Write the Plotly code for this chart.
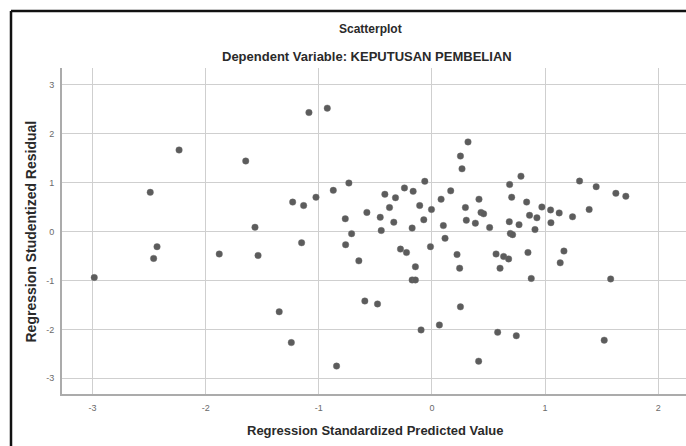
import plotly.graph_objects as go

# Regression Standardized Predicted Value (x) and Regression Studentized Residual (y)
predicted = [
    -2.985, -2.49, -2.43, -2.46, -2.235, -1.88, -1.646, -1.564, -1.537, -1.35,
    -1.243, -1.231, -1.152, -1.134, -1.087, -1.025, -0.925, -0.872, -0.843, -0.766,
    -0.763, -0.734, -0.71, -0.646, -0.593, -0.575, -0.481, -0.457, -0.448, -0.416,
    -0.375, -0.337, -0.322, -0.278, -0.243, -0.225, -0.175, -0.175, -0.146, -0.166,
    -0.146, -0.108, -0.096, -0.072, -0.063, -0.013, -0.004, 0.066, 0.081, 0.101,
    0.116, 0.166, 0.222, 0.245, 0.252, 0.252, 0.266, 0.296, 0.304, 0.319,
    0.384, 0.413, 0.416, 0.434, 0.457, 0.51, 0.567, 0.581, 0.602, 0.634,
    0.678, 0.684, 0.687, 0.693, 0.713, 0.705, 0.746, 0.77, 0.787, 0.837,
    0.849, 0.863, 0.878, 0.911, 0.928, 0.972, 1.049, 1.052, 1.125, 1.134,
    1.167, 1.243, 1.305, 1.39, 1.452, 1.523, 1.58, 1.626, 1.714,
]
residual = [
    -0.94, 0.80, -0.31, -0.55, 1.665, -0.46, 1.44, 0.086, -0.49, -1.64,
    -2.27, 0.60, -0.23, 0.53, 2.43, 0.70, 2.52, 0.84, -2.75, 0.26,
    -0.27, 0.99, -0.045, -0.60, -1.42, 0.39, -1.48, 0.29, 0.02, 0.76,
    0.49, 0.19, 0.69, -0.36, 0.89, -0.43, 0.07, -0.99, -0.99, 0.82,
    -0.72, 0.53, -2.01, 0.24, 1.025, -0.31, 0.45, -1.91, 0.66, 0.12,
    -0.14, 0.83, -0.47, -0.75, 1.54, -1.54, 1.28, 0.49, 0.23, 1.83,
    0.17, -2.65, 0.66, 0.39, 0.36, 0.08, -0.46, -2.06, -0.75, -0.51,
    -0.56, 0.20, 0.96, -0.04, -0.065, 0.70, -2.13, 0.14, 1.13, 0.60,
    -0.43, 0.33, -0.96, 0.04, 0.28, 0.50, 0.44, 0.18, 0.38, -0.64,
    -0.40, 0.30, 1.03, 0.45, 0.915, -2.22, -0.97, 0.78, 0.72,
]
x_ticks = [-3, -2, -1, 0, 1, 2]
y_ticks = [-3, -2, -1, 0, 1, 2, 3]

title_text = "Scatterplot"
subtitle_text = "Dependent Variable: KEPUTUSAN PEMBELIAN"
x_title = "Regression Standardized Predicted Value"
y_title = "Regression Studentized Residual"

FONT = "Liberation Sans, Arial, sans-serif"

fig = go.Figure()
fig.add_trace(go.Scatter(
    x=predicted, y=residual, mode="markers",
    marker=dict(size=6.5, color="#5c5c5c",
                line=dict(color="rgba(110,110,110,0.4)", width=1)),
    hoverinfo="x+y", showlegend=False,
))

L, R, T, B = 62, 0, 68, 52
W, H = 686, 446
pw, ph = W - L - R, H - T - B

def px_x(p):
    return (p - L) / pw

def px_y(p):
    return (H - B - p) / ph

axis_common = dict(
    showgrid=True, gridcolor="#cfcfcf", gridwidth=1,
    zeroline=False, showline=True, linecolor="#ababab", linewidth=2,
    ticks="", tickfont=dict(family=FONT, size=9, color="#6a6a6a"),
    ticklabelstandoff=4,
)

fig.update_layout(
    width=W, height=H,
    margin=dict(l=L, r=R, t=T, b=B),
    paper_bgcolor="white", plot_bgcolor="white",
    font=dict(family=FONT),
    xaxis=dict(range=[-3.27, 2.246], tickvals=x_ticks,
               ticktext=[str(v) for v in x_ticks], **axis_common),
    yaxis=dict(range=[-3.32, 3.34], tickvals=y_ticks,
               ticktext=[str(v) for v in y_ticks], **axis_common),
    annotations=[
        dict(text=f"<b>{title_text}</b>", xref="paper", yref="paper",
             x=px_x(370), y=px_y(29), showarrow=False, xanchor="center",
             yanchor="middle", font=dict(family=FONT, size=12, color="#2a2a2a")),
        dict(text=f"<b>{subtitle_text}</b>", xref="paper", yref="paper",
             x=px_x(367), y=px_y(57), showarrow=False, xanchor="center",
             yanchor="middle", font=dict(family=FONT, size=13, color="#2a2a2a")),
        dict(text=f"<b>{x_title}</b>", xref="paper", yref="paper",
             x=px_x(375), y=px_y(430), showarrow=False, xanchor="center",
             yanchor="middle", font=dict(family=FONT, size=13, color="#2a2a2a")),
        dict(text=f"<b>{y_title}</b>", xref="paper", yref="paper",
             x=px_x(30), y=px_y(231.5), showarrow=False, xanchor="center",
             yanchor="middle", textangle=-90,
             font=dict(family=FONT, size=14, color="#2a2a2a")),
    ],
    shapes=[
        dict(type="line", xref="paper", yref="paper",
             x0=px_x(11), x1=px_x(11), y0=px_y(11), y1=px_y(446),
             line=dict(color="#111111", width=2.5)),
        dict(type="line", xref="paper", yref="paper",
             x0=px_x(11), x1=px_x(686), y0=px_y(11), y1=px_y(11),
             line=dict(color="#111111", width=2.5)),
    ],
)

fig.write_html("out.html",
               config={"displayModeBar": False},
               post_script=("document.documentElement.style.margin='0px';"
                            "document.documentElement.style.overflow='hidden';"
                            "document.body.style.margin='0px';"
                            "document.body.style.overflow='hidden';"))
